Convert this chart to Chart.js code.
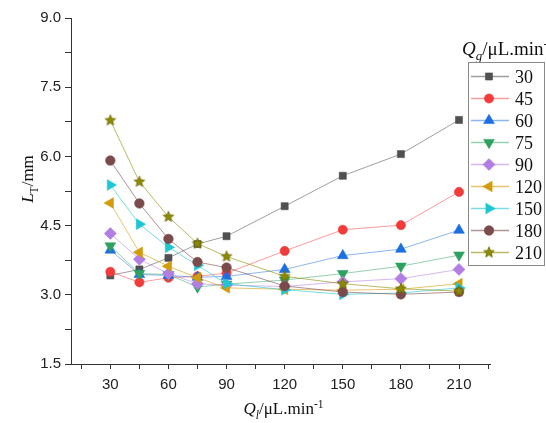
<!DOCTYPE html>
<html>
<head>
<meta charset="utf-8">
<script src="https://cdn.jsdelivr.net/npm/chart.js@4.4.1/dist/chart.umd.min.js"></script>
<style>
html, body { margin: 0; padding: 0; background: #fff; }
</style>
</head>
<body>
<canvas id="grafico" width="546" height="423"></canvas>
<script>
// Q_l values (x) and one L_T series per Q_g
const qlValues = [30, 45, 60, 75, 90, 120, 150, 180, 210];
const qgLabels = ['30', '45', '60', '75', '90', '120', '150', '180', '210'];
const lt30  = [3.42, 3.55, 3.80, 4.10, 4.27, 4.92, 5.58, 6.05, 6.79];
const lt45  = [3.50, 3.27, 3.37, 3.40, 3.47, 3.95, 4.41, 4.51, 5.23];
const lt60  = [3.97, 3.44, 3.42, 3.38, 3.40, 3.55, 3.85, 3.99, 4.40];
const lt75  = [4.06, 3.46, 3.44, 3.17, 3.23, 3.32, 3.46, 3.62, 3.86];
const lt90  = [4.33, 3.77, 3.46, 3.24, 3.21, 3.18, 3.28, 3.35, 3.55];
const lt120 = [4.99, 3.92, 3.62, 3.37, 3.15, 3.12, 3.10, 3.12, 3.24];
const lt150 = [5.38, 4.53, 4.03, 3.64, 3.24, 3.11, 3.01, 3.04, 3.15];
const lt180 = [5.91, 4.98, 4.21, 3.71, 3.59, 3.19, 3.06, 3.01, 3.06];
const lt210 = [6.78, 5.45, 4.69, 4.11, 3.83, 3.40, 3.24, 3.13, 3.08];
const xTickLabels = ['30', '60', '90', '120', '150', '180', '210'];
const yTickLabels = ['1.5', '3.0', '4.5', '6.0', '7.5', '9.0'];

const seriesValues = [lt30, lt45, lt60, lt75, lt90, lt120, lt150, lt180, lt210];
const colores = ['#505050', '#f23b3b', '#1c6fe0', '#2ea160', '#b27ee3', '#d29c0c', '#1ec6d4', '#7b4b4b', '#8c8a00'];
const lineas  = ['rgba(80,80,80,0.55)', 'rgba(242,59,59,0.5)', 'rgba(28,111,224,0.5)', 'rgba(46,161,96,0.5)',
                 'rgba(178,126,227,0.55)', 'rgba(210,156,12,0.6)', 'rgba(30,198,212,0.6)', 'rgba(123,75,75,0.6)', 'rgba(140,138,0,0.6)'];

function makeStar(r, fill, stroke) {
    const c = document.createElement('canvas');
    const s = Math.ceil(r * 2 + 2);
    c.width = s; c.height = s;
    const g = c.getContext('2d');
    g.beginPath();
    for (let i = 0; i < 10; i++) {
        const rad = i % 2 === 0 ? r : r * 0.45;
        const a = -Math.PI / 2 + i * Math.PI / 5;
        g.lineTo(s / 2 + rad * Math.cos(a), s / 2 + rad * Math.sin(a));
    }
    g.closePath();
    g.fillStyle = fill; g.fill();
    g.strokeStyle = stroke; g.lineWidth = 0.8; g.stroke();
    return c;
}

const estilos = [
    { style: 'rect', rot: 0, r: 5 },
    { style: 'circle', rot: 0, r: 4.6 },
    { style: 'triangle', rot: 0, r: 6.2 },
    { style: 'triangle', rot: 180, r: 6.2 },
    { style: 'rectRot', rot: 0, r: 6 },
    { style: 'triangle', rot: 270, r: 6.2 },
    { style: 'triangle', rot: 90, r: 6.2 },
    { style: 'circle', rot: 0, r: 4.8 },
    { style: makeStar(5.6, '#8c8a00', '#6e6c00'), rot: 0, r: 5 }
];

const datasets = seriesValues.map(function (vals, i) {
    return {
        label: qgLabels[i],
        data: qlValues.map(function (x, j) { return { x: x, y: vals[j] }; }),
        borderColor: lineas[i],
        backgroundColor: colores[i],
        borderWidth: 1,
        pointStyle: estilos[i].style,
        rotation: estilos[i].rot,
        pointRadius: estilos[i].r,
        pointBorderColor: colores[i],
        pointBackgroundColor: colores[i],
        pointBorderWidth: 0.6,
        tension: 0,
        order: seriesValues.length - i
    };
});

// draws mixed italic / sub / sup text
function richWidth(ctx, segs, size) {
    let w = 0;
    segs.forEach(function (s) {
        const fs = (s.sub || s.sup) ? size * 0.68 : size;
        ctx.font = (s.italic ? 'italic ' : '') + fs + 'px "Liberation Serif", "Times New Roman", serif';
        w += ctx.measureText(s.t).width;
    });
    return w;
}
function drawRich(ctx, segs, x, y, size) {
    let cx = x;
    segs.forEach(function (s) {
        const fs = (s.sub || s.sup) ? size * 0.68 : size;
        ctx.font = (s.italic ? 'italic ' : '') + fs + 'px "Liberation Serif", "Times New Roman", serif';
        const dy = s.sub ? size * 0.28 : (s.sup ? -size * 0.38 : 0);
        ctx.fillText(s.t, cx, y + dy);
        cx += ctx.measureText(s.t).width;
    });
}

const tituloX = [{ t: 'Q', italic: true }, { t: 'l', italic: true, sub: true }, { t: '/\u03bcL.min' }, { t: '-1', sup: true }];
const tituloY = [{ t: 'L', italic: true }, { t: 'T', sub: true }, { t: '/mm' }];
const tituloLeyenda = [{ t: 'Q', italic: true }, { t: 'g', italic: true, sub: true }, { t: '/\u03bcL.min' }, { t: '-1', sup: true }];

const titulosPlugin = {
    id: 'titulos',
    afterDraw: function (chart) {
        const ctx = chart.ctx;
        const area = chart.chartArea;
        ctx.save();
        ctx.fillStyle = '#111';
        ctx.textBaseline = 'alphabetic';
        ctx.textAlign = 'left';
        // x title
        const wx = richWidth(ctx, tituloX, 17);
        drawRich(ctx, tituloX, (area.left + area.right) / 2 - wx / 2 + 3, 414, 17);
        // y title
        const wy = richWidth(ctx, tituloY, 17);
        ctx.save();
        ctx.translate(33, (area.top + area.bottom) / 2 - 12);
        ctx.rotate(-Math.PI / 2);
        drawRich(ctx, tituloY, -wy / 2, 0, 17);
        ctx.restore();
        ctx.restore();
    }
};

const leyendaPlugin = {
    id: 'leyendaOrigin',
    afterDraw: function (chart) {
        const ctx = chart.ctx;
        ctx.save();
        ctx.fillStyle = '#111';
        ctx.textAlign = 'left';
        ctx.textBaseline = 'alphabetic';
        drawRich(ctx, tituloLeyenda, 462, 55, 19);
        ctx.fillStyle = '#fff';
        ctx.fillRect(468, 62, 76, 203);
        ctx.strokeStyle = '#8a8a8a';
        ctx.lineWidth = 1;
        ctx.strokeRect(468.5, 62.5, 76, 203);
        chart.data.datasets.forEach(function (ds, i) {
            const y = 76 + 22 * i;
            ctx.strokeStyle = ds.borderColor;
            ctx.lineWidth = 1.5;
            ctx.beginPath();
            ctx.moveTo(471, y + 0.5);
            ctx.lineTo(509, y + 0.5);
            ctx.stroke();
            ctx.fillStyle = ds.pointBackgroundColor;
            ctx.strokeStyle = ds.pointBorderColor;
            ctx.lineWidth = 0.6;
            Chart.helpers.drawPoint(ctx, {
                pointStyle: ds.pointStyle,
                rotation: ds.rotation,
                radius: ds.pointRadius,
                borderWidth: 0.6
            }, 489, y + 0.5);
            ctx.fillStyle = '#111';
            ctx.font = '18px "Liberation Serif", "Times New Roman", serif';
            ctx.fillText(ds.label, 515, y + 6.5);
        });
        ctx.restore();
    }
};

const ctx = document.getElementById('grafico').getContext('2d');
const chart = new Chart(ctx, {
    type: 'line',
    data: { datasets: datasets },
    options: {
        responsive: false,
        animation: false,
        layout: { padding: { left: 0, right: 56, top: 18, bottom: 0 } },
        plugins: {
            legend: { display: false },
            tooltip: { enabled: false }
        },
        scales: {
            x: {
                type: 'linear',
                min: 9.7,
                max: 226,
                afterFit: function (scale) { scale.height = 59; },
                afterBuildTicks: function (scale) {
                    const t = [];
                    for (let v = 15; v <= 225; v += 15) t.push({ value: v });
                    scale.ticks = t;
                },
                border: { color: '#333', width: 1 },
                grid: { drawOnChartArea: false, drawTicks: true, tickLength: 5, color: '#333' },
                ticks: {
                    autoSkip: false,
                    maxRotation: 0,
                    padding: 7,
                    color: '#222',
                    font: { family: '"Liberation Sans", Arial, sans-serif', size: 15 },
                    callback: function (v) {
                        const s = String(v);
                        return xTickLabels.indexOf(s) >= 0 ? s : '';
                    }
                }
            },
            y: {
                min: 1.5,
                max: 9,
                afterFit: function (scale) { scale.width = 71; },
                border: { color: '#333', width: 1 },
                grid: { drawOnChartArea: false, drawTicks: true, tickLength: 6, color: '#333' },
                ticks: {
                    stepSize: 0.75,
                    autoSkip: false,
                    padding: 4,
                    color: '#222',
                    font: { family: '"Liberation Sans", Arial, sans-serif', size: 15 },
                    callback: function (v) {
                        const s = Number(v).toFixed(1);
                        return yTickLabels.indexOf(s) >= 0 ? s : '';
                    }
                }
            }
        }
    },
    plugins: [titulosPlugin, leyendaPlugin]
});
</script>
</body>
</html>
